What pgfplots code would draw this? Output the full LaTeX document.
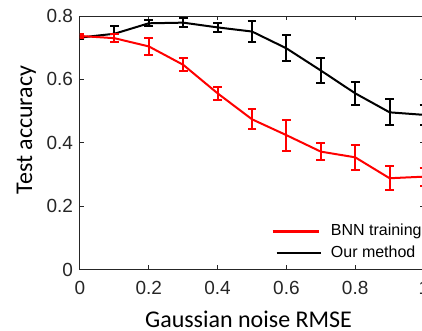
\documentclass[border=0pt]{standalone}
\usepackage{pgfplots}
\usepackage{pgfplotstable}
\pgfplotsset{compat=1.18}
\usepackage{fontspec}
\setmainfont{Liberation Sans}
\newfontfamily\calibri{Carlito}
\definecolor{axgray}{RGB}{38,38,38}
\pgfplotstableread{
x y e
0 0.732 0.006
0.1 0.744 0.026
0.2 0.777 0.009
0.3 0.779 0.015
0.4 0.764 0.013
0.5 0.751 0.032
0.6 0.698 0.041
0.7 0.628 0.038
0.8 0.556 0.037
0.9 0.496 0.041
1.0 0.488 0.031
}\ourdata
\pgfplotstableread{
x y e
0 0.737 0.005
0.1 0.730 0.013
0.2 0.704 0.027
0.3 0.646 0.021
0.4 0.556 0.021
0.5 0.474 0.031
0.6 0.424 0.049
0.7 0.372 0.027
0.8 0.354 0.040
0.9 0.288 0.038
1.0 0.293 0.028
}\bnndata
\begin{document}
\begin{tikzpicture}
\begin{axis}[
 scale only axis, width=172pt, height=126.75pt,
 xmin=0, xmax=1, ymin=0, ymax=0.8,
 xtick={0,0.2,0.4,0.6,0.8,1}, ytick={0,0.2,0.4,0.6,0.8},
 axis line style={axgray, line width=0.5pt},
 tick style={axgray, line width=0.5pt},
 major tick length=2pt,
 tick align=inside,
 ticklabel style={font=\fontsize{9.5}{11}\selectfont, text=axgray},
 xticklabel style={yshift=-2.5pt},
 /pgf/number format/assume math mode=true,
 xlabel={Gaussian noise RMSE}, ylabel={Test accuracy},
 label style={font=\calibri\fontsize{12}{14}\selectfont, text=black},
 xlabel style={at={(axis description cs:0.49,-0.2288)}, anchor=base},
 ylabel style={at={(axis description cs:-0.1395,0.55)}, anchor=base},
 legend style={at={(axis description cs:0.555,0.18)}, anchor=north west, draw=none, fill=none, inner sep=0pt, outer sep=0pt, font=\fontsize{8}{9.6}\selectfont, row sep=3.6pt, nodes={inner sep=0pt}, /tikz/every odd column/.append style={column sep=4.8pt}},
 legend cell align=left,
]
\addplot[black, line width=1pt, mark=none, forget plot,
  error bars/.cd, y dir=both, y explicit,
  error bar style={line width=1pt},
  error mark options={line width=1pt, mark size=2.2pt, rotate=90}]
  table[x=x, y=y, y error=e] {\ourdata};
\addplot[red, line width=1pt, mark=none, forget plot,
  error bars/.cd, y dir=both, y explicit,
  error bar style={line width=1pt},
  error mark options={line width=1pt, mark size=2.2pt, rotate=90}]
  table[x=x, y=y, y error=e] {\bnndata};
\addlegendimage{legend image code/.code={\draw[red, line width=1.6pt] (0pt,0pt) -- (23pt,0pt);}}
\addlegendentry{BNN training}
\addlegendimage{legend image code/.code={\draw[black, line width=0.8pt] (2pt,0pt) -- (24pt,0pt);}}
\addlegendentry{Our method}
\end{axis}
\pgfresetboundingbox
\path[use as bounding box] ([xshift=-40pt,yshift=-30.75pt]current axis.south west) rectangle ([xshift=-1pt,yshift=8pt]current axis.north east);
\end{tikzpicture}
\end{document}
